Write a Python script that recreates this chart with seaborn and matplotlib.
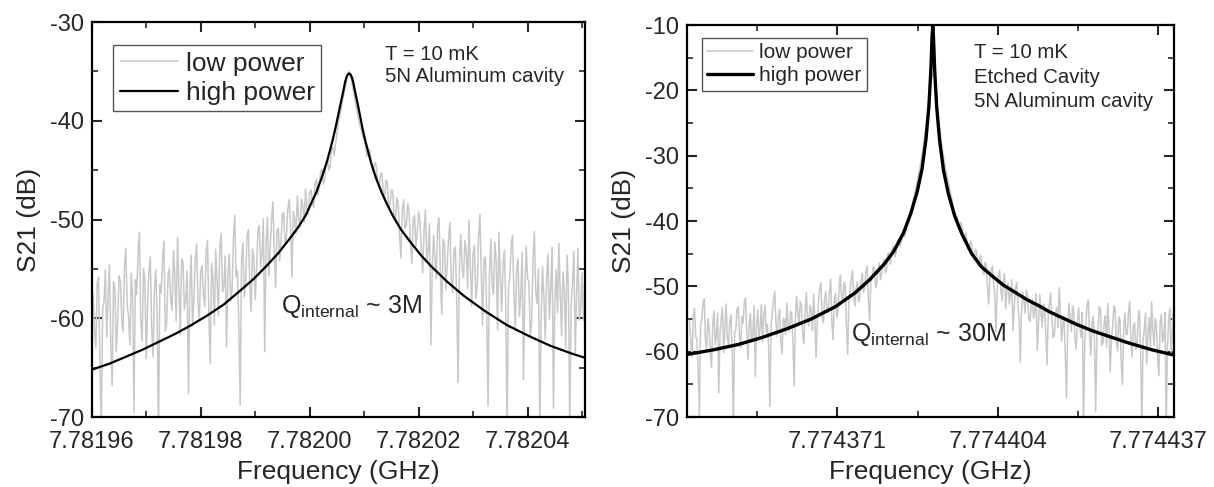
import numpy as np
import pandas as pd
import matplotlib
matplotlib.use("Agg")
import matplotlib.pyplot as plt
from matplotlib.ticker import FixedLocator, FormatStrFormatter, AutoMinorLocator
import seaborn as sns

# ---- left panel data (offsets in kHz from resonance) ----
left_f0 = 7.7820072
left_xlim = (7.78196, 7.7820505)
left_xticks = [7.78196, 7.78198, 7.78200, 7.78202, 7.78204]
left_yticks = [-70, -60, -50, -40, -30]

left_high_off = [-47.2, -44, -41, -38, -35, -32, -29, -26, -23, -20, -17.5, -15, -13, -11,
                 -9.5, -8, -7, -6, -5, -4, -3, -2.5, -2, -1.5, -1, -0.75, -0.5, -0.25, 0,
                 0.25, 0.5, 0.75, 1, 1.5, 2, 2.5, 3, 4, 5, 6, 7, 8, 9.5, 11, 13, 15, 18,
                 21, 25, 29, 33, 37, 41, 43.3]
left_high_db = [-65.2, -64.6, -63.9, -63.2, -62.4, -61.6, -60.7, -59.7, -58.6, -57.2,
                -56.0, -54.6, -53.4, -52.0, -50.9, -49.6, -48.4, -47.2, -45.7, -44.0,
                -41.9, -40.7, -39.4, -38.1, -36.8, -36.1, -35.6, -35.3, -35.2, -35.3,
                -35.6, -36.1, -36.8, -38.1, -39.5, -40.9, -42.1, -44.2, -45.9, -47.3,
                -48.5, -49.6, -51.0, -52.1, -53.5, -54.7, -56.3, -57.7, -59.3, -60.7,
                -61.8, -62.8, -63.6, -64.0]

left_low_start, left_low_step = -47.0, 0.25
left_low_db = [
    -57.5, -61.2, -63.0, -56.4, -55.8, -64.7, -71.5, -59.0, -58.4, -55.1, -61.9, -57.8, -54.6, -62.5, -66.8, -56.3, -57.1, -63.4, -60.5, -55.7,
    -56.2, -59.9, -61.4, -54.8, -52.9, -58.6, -59.8, -62.7, -55.4, -57.9, -69.5, -56.1, -57.6, -53.4, -51.3, -60.2, -62.3, -55.0, -56.0, -64.1,
    -58.7, -55.3, -53.8, -60.9, -63.9, -57.2, -55.1, -59.4, -71.5, -56.6, -57.4, -53.9, -52.2, -61.3, -60.6, -55.8, -54.9, -58.0, -59.2, -53.1,
    -55.6, -60.3, -51.8, -56.7, -61.7, -54.0, -54.3, -59.1, -58.2, -55.2, -67.6, -57.0, -53.6, -60.8, -57.9, -54.1, -52.5, -58.5, -60.1, -55.3,
    -54.7, -57.6, -58.8, -53.2, -52.1, -59.5, -64.6, -54.4, -55.9, -60.7, -53.0, -56.2, -59.7, -52.8, -51.4, -57.3, -56.8, -53.7, -62.9, -55.5,
    -53.5, -58.3, -57.3, -52.0, -49.6, -55.8, -55.2, -60.6, -68.8, -54.1, -52.4, -57.9, -56.6, -51.7, -51.0, -56.3, -59.3, -53.0, -53.9, -58.1,
    -55.0, -51.2, -50.6, -54.8, -53.6, -49.9, -63.4, -52.5, -49.8, -55.7, -52.8, -50.1, -48.2, -53.3, -56.9, -51.1, -50.9, -54.2, -52.2, -49.4,
    -49.3, -52.6, -51.7, -48.9, -48.0, -50.9, -55.8, -49.2, -49.9, -51.4, -47.6, -50.0, -50.8, -47.9, -48.6, -50.3, -46.9, -49.0, -49.5, -47.3,
    -47.0, -48.4, -48.8, -46.3, -45.9, -47.5, -46.8, -45.2, -44.9, -46.4, -46.0, -44.1, -43.9, -45.0, -44.6, -43.0, -42.7, -43.5, -42.3, -41.4,
    -40.1, -39.6, -39.0, -38.0, -37.4, -36.6, -36.0, -35.4, -35.0, -35.5, -36.1, -36.9, -37.6, -38.5, -39.2, -39.9, -40.5, -41.0, -41.6, -42.0,
    -42.4, -43.6, -43.3, -42.9, -43.8, -45.1, -45.0, -44.2, -44.6, -46.3, -46.8, -45.4, -45.3, -47.2, -47.9, -46.0, -46.2, -48.9, -48.5, -47.0,
    -47.1, -49.6, -50.2, -47.8, -48.3, -51.5, -53.9, -49.0, -48.0, -50.9, -50.6, -48.4, -49.1, -52.3, -54.4, -50.0, -49.6, -52.7, -51.3, -49.2,
    -50.2, -53.0, -55.4, -51.1, -49.0, -54.2, -53.1, -50.4, -62.7, -55.1, -51.6, -53.9, -56.0, -50.7, -49.8, -55.6, -59.6, -52.0, -52.4, -57.1,
    -54.6, -51.9, -50.3, -56.2, -57.4, -53.0, -52.8, -58.4, -66.5, -54.3, -51.5, -55.0, -55.9, -52.1, -53.2, -57.0, -50.1, -54.8, -58.8, -53.4,
    -52.6, -58.0, -56.9, -51.7, -49.5, -55.3, -60.7, -54.0, -53.8, -59.2, -68.9, -55.6, -52.0, -56.7, -57.6, -52.3, -54.4, -61.2, -51.3, -55.8,
    -59.3, -54.5, -53.1, -58.6, -71.5, -56.9, -55.7, -52.4, -51.6, -57.5, -61.0, -55.0, -54.0, -59.8, -57.8, -53.3, -66.2, -57.1, -52.7, -56.0,
    -56.3, -61.9, -60.4, -54.2, -51.2, -57.3, -58.5, -55.0, -71.5, -59.6, -54.8, -58.0, -62.2, -55.9, -53.5, -60.1, -57.0, -52.8, -69.1, -58.3,
    -55.1, -59.4, -52.4, -57.5, -61.8, -55.3, -57.2, -63.0, -53.6, -56.8, -71.5, -58.7, -56.4, -53.2, -63.5, -57.7, -52.9, -60.2, -59.0, -55.4,
    -60.2]

# ---- right panel data ----
right_f0 = 7.7743906
right_xlim = (7.77434006, 7.77444022)
right_xticks = [7.774371, 7.774404, 7.774437]
right_yticks = [-70, -60, -50, -40, -30, -20, -10]

right_high_off = [-50.3, -45, -40, -35, -30, -25, -20, -16, -13, -10, -8, -6, -4.5, -3.2,
                  -2.2, -1.4, -0.8, -0.4, -0.15, 0, 0.15, 0.4, 0.8, 1.4, 2.2, 3.2, 4.5,
                  6, 8, 10, 12.2, 14.5, 16.9, 19.5, 21.9, 24, 26.6, 29.5, 32.8, 36, 40,
                  45, 50.1]
right_high_db = [-60.4, -59.7, -58.9, -57.8, -56.5, -55.0, -53.1, -51.0, -49.0, -46.6,
                 -44.6, -41.8, -38.8, -35.5, -32.0, -27.5, -22.5, -17.0, -12.0, -10.0,
                 -12.0, -17.0, -22.5, -27.6, -32.2, -35.8, -39.2, -42.0, -45.0, -47.0,
                 -48.4, -49.8, -50.9, -52.1, -53.0, -53.9, -54.8, -55.8, -56.8, -57.6,
                 -58.6, -59.7, -60.6]

right_low_start, right_low_step = -50.0, 0.25
right_low_db = [
    -55.3, -59.0, -60.8, -54.5, -53.4, -57.7, -58.1, -62.9, -69.8, -56.0, -54.9, -52.6, -51.9, -58.3, -59.6, -55.0, -56.2, -60.1, -62.4, -55.7,
    -53.8, -58.9, -57.6, -54.1, -66.3, -57.2, -55.0, -53.2, -60.2, -56.5, -52.7, -57.9, -58.9, -55.3, -54.4, -59.8, -71.5, -57.0, -56.7, -53.5,
    -53.1, -57.4, -59.4, -54.7, -55.6, -52.3, -51.8, -57.1, -61.2, -55.8, -54.2, -58.6, -57.3, -53.0, -63.8, -56.2, -53.6, -58.0, -56.5, -52.8,
    -58.6, -54.4, -52.9, -57.1, -55.8, -59.3, -68.4, -56.0, -54.0, -52.2, -50.8, -55.5, -57.7, -54.6, -53.5, -58.2, -60.3, -54.9, -55.1, -57.4,
    -52.6, -56.0, -57.0, -53.8, -54.3, -58.7, -65.2, -55.0, -51.5, -54.2, -55.9, -52.3, -53.0, -57.4, -58.8, -53.6, -50.9, -55.2, -56.1, -52.9,
    -53.7, -56.8, -51.2, -54.9, -60.9, -55.5, -52.4, -50.3, -49.5, -54.6, -55.6, -52.0, -50.8, -53.5, -54.0, -51.1, -48.9, -55.3, -58.2, -52.2,
    -51.0, -54.7, -53.9, -50.2, -48.2, -51.6, -52.3, -49.4, -49.9, -56.2, -60.4, -52.0, -50.5, -48.8, -47.6, -51.8, -53.0, -50.1, -49.3, -52.4,
    -51.7, -49.2, -48.0, -50.9, -50.1, -47.8, -46.9, -52.0, -55.3, -49.6, -48.5, -47.0, -47.2, -50.2, -49.6, -47.4, -46.4, -49.0, -48.1, -46.7,
    -45.8, -47.9, -47.5, -45.0, -44.9, -46.6, -45.3, -44.0, -43.9, -45.5, -44.6, -43.1, -42.8, -43.9, -43.2, -42.0, -41.5, -42.4, -41.2, -40.3,
    -39.6, -39.0, -38.3, -37.7, -36.7, -36.0, -35.0, -34.1, -33.2, -32.2, -31.3, -30.0, -29.0, -27.6, -26.1, -24.4, -22.8, -20.8, -18.6, -18.0,
    -17.5, -18.1, -18.7, -20.9, -23.0, -24.6, -26.3, -27.8, -29.2, -30.4, -31.5, -32.5, -33.4, -34.3, -35.2, -36.1, -36.9, -37.8, -38.6, -39.3,
    -39.4, -40.6, -41.0, -40.2, -40.6, -41.9, -42.6, -41.8, -42.9, -44.3, -44.1, -43.0, -43.7, -45.2, -45.8, -44.3, -44.6, -46.5, -46.9, -45.2,
    -45.9, -47.7, -48.2, -46.3, -46.8, -50.1, -52.7, -48.6, -47.6, -46.9, -49.4, -51.5, -57.0, -50.2, -48.3, -47.5, -50.6, -52.2, -49.0, -48.1,
    -53.4, -50.6, -49.5, -52.7, -51.2, -49.0, -56.8, -53.3, -50.3, -49.4, -52.5, -55.1, -61.6, -53.8, -50.9, -52.2, -54.1, -50.5, -51.6, -55.0,
    -55.4, -52.8, -52.0, -54.9, -53.6, -51.1, -59.8, -55.5, -51.3, -54.0, -56.2, -52.7, -53.1, -57.6, -62.0, -54.4, -52.4, -51.0, -55.0, -57.8,
    -57.5, -54.1, -53.2, -56.3, -50.2, -53.8, -58.4, -55.9, -54.7, -60.6, -67.1, -56.0, -52.6, -54.9, -56.9, -53.0, -54.0, -58.3, -59.6, -55.2,
    -53.3, -56.4, -57.8, -54.0, -71.5, -58.8, -55.4, -52.8, -52.1, -57.2, -60.5, -55.7, -54.6, -58.1, -69.2, -57.5, -56.3, -53.1, -53.7, -59.0,
    -58.7, -55.6, -54.5, -59.3, -52.6, -56.4, -63.1, -57.8, -56.0, -53.0, -53.4, -58.2, -59.9, -54.7, -55.2, -61.4, -65.0, -56.6, -54.1, -57.3,
    -57.4, -54.0, -52.3, -58.1, -60.8, -56.2, -55.6, -59.7, -58.9, -54.5, -53.7, -60.3, -71.5, -58.4, -56.5, -54.1, -61.9, -57.3, -54.8, -59.2,
    -52.4, -56.7, -59.1, -54.9, -56.0, -61.2, -63.7, -55.8, -54.3, -58.5, -57.9, -54.0, -71.5, -59.5, -55.2, -53.3, -60.6, -57.0, -53.5, -56.4,
    -58.0]

# style
sns.set_style("ticks")
plt.rcParams['font.family'] = ['Liberation Sans', 'DejaVu Sans']
plt.rcParams['mathtext.fontset'] = 'custom'
plt.rcParams['mathtext.rm'] = 'Liberation Sans'
plt.rcParams['mathtext.it'] = 'Liberation Sans'
plt.rcParams['axes.unicode_minus'] = False


def sweep(f0, offsets):
    return f0 + np.asarray(offsets) * 1e-6


def draw_panel(ax, f0, low_start, low_step, low_db, high_off, high_db,
               xlim, xticks, xfmt, yticks, high_lw, legend_size, legend_anchor):
    low_off = low_start + low_step * np.arange(len(low_db))
    low = pd.DataFrame({'f': sweep(f0, low_off), 'db': low_db})
    high = pd.DataFrame({'f': sweep(f0, high_off), 'db': high_db})
    sns.lineplot(data=low, x='f', y='db', ax=ax, color='#c8c8c8', lw=1.1,
                 label='low power', sort=False, estimator=None)
    sns.lineplot(data=high, x='f', y='db', ax=ax, color='black', lw=high_lw,
                 label='high power', sort=False, estimator=None)
    ax.set_xlim(*xlim)
    ax.set_ylim(yticks[0], yticks[-1])
    ax.xaxis.set_major_locator(FixedLocator(xticks))
    ax.xaxis.set_major_formatter(FormatStrFormatter(xfmt))
    ax.xaxis.set_minor_locator(AutoMinorLocator(2))
    ax.set_yticks(yticks)
    ax.yaxis.set_minor_locator(AutoMinorLocator(2))
    ax.tick_params(which='both', direction='in', top=True, right=True, labelsize=17)
    ax.tick_params(axis='y', pad=6)
    ax.tick_params(axis='x', pad=10)
    ax.tick_params(which='major', length=7, width=1.5)
    ax.tick_params(which='minor', length=4, width=1.2)
    for s in ax.spines.values():
        s.set_linewidth(1.6)
        s.set_color('black')
    ax.set_xlabel('Frequency (GHz)', fontsize=19, labelpad=5)
    ax.set_ylabel('S21 (dB)', fontsize=19, labelpad=6)
    leg = ax.legend(loc='upper left', bbox_to_anchor=legend_anchor, borderaxespad=0,
                    fontsize=legend_size, frameon=True, fancybox=False, framealpha=1,
                    handlelength=2.2, handletextpad=0.3, labelspacing=0.2,
                    borderpad=0.25)
    leg.get_frame().set_edgecolor('#555555')
    leg.get_frame().set_linewidth(1.0)


fig = plt.figure(figsize=(12.14, 4.87), dpi=100)
ax1 = fig.add_axes([0.0758, 0.1437, 0.4061, 0.811])
ax2 = fig.add_axes([0.5659, 0.1437, 0.4012, 0.8049])

draw_panel(ax1, left_f0, left_low_start, left_low_step, left_low_db,
           left_high_off, left_high_db, left_xlim, left_xticks, '%.5f',
           left_yticks, 1.6, 19, (0.043, 0.942))
draw_panel(ax2, right_f0, right_low_start, right_low_step, right_low_db,
           right_high_off, right_high_db, right_xlim, right_xticks, '%.6f',
           right_yticks, 2.4, 15, (0.031, 0.967))

ax1.text(0.594, 0.919, 'T = 10 mK', transform=ax1.transAxes, fontsize=14.7, va='center')
ax1.text(0.594, 0.861, '5N Aluminum cavity', transform=ax1.transAxes, fontsize=14.7, va='center')
ax1.text(0.383, 0.263, r'Q$_{\mathrm{internal}}$ ~ 3M', transform=ax1.transAxes,
         fontsize=18, va='baseline')

ax2.text(0.589, 0.929, 'T = 10 mK', transform=ax2.transAxes, fontsize=14.7, va='center')
ax2.text(0.589, 0.867, 'Etched Cavity', transform=ax2.transAxes, fontsize=14.7, va='center')
ax2.text(0.589, 0.804, '5N Aluminum cavity', transform=ax2.transAxes, fontsize=14.7, va='center')
ax2.text(0.337, 0.194, r'Q$_{\mathrm{internal}}$ ~ 30M', transform=ax2.transAxes,
         fontsize=18, va='baseline')

fig.savefig('out.png', dpi=100)
